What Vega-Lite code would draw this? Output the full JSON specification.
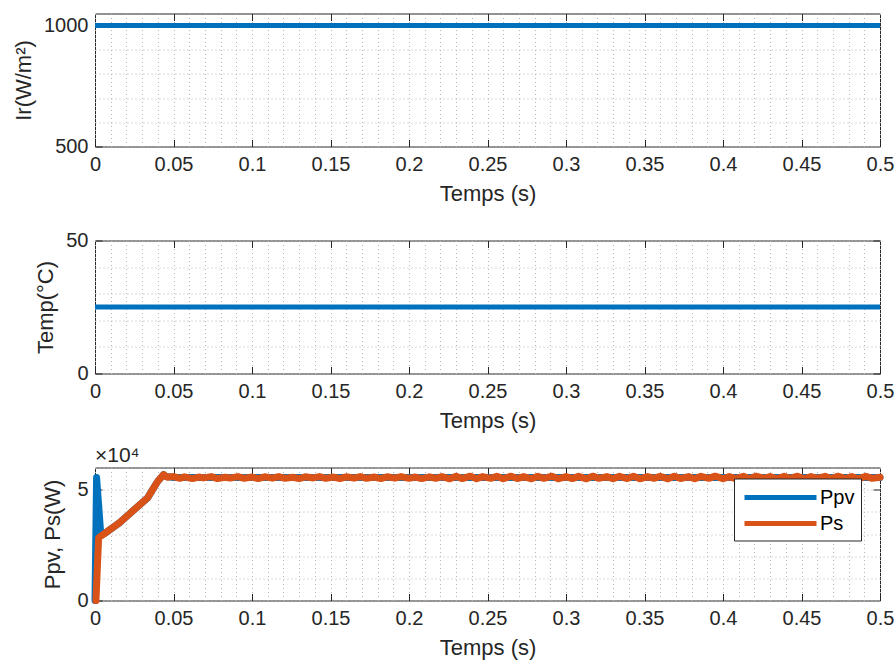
{
  "$schema": "https://vega.github.io/schema/vega-lite/v6.json",
  "autosize": {"type": "pad"},
  "padding": {"left": 12, "top": 12.5, "right": 0, "bottom": 0},
  "background": "white",
  "spacing": 94,
  "bounds": "flush",
  "config": {
    "view": {"stroke": "#262626", "strokeWidth": 1},
    "axis": {
      "labelFont": "Liberation Sans",
      "labelFontSize": 20,
      "labelColor": "#262626",
      "titleFont": "Liberation Sans",
      "titleFontSize": 22,
      "titleFontWeight": "normal",
      "titleColor": "#262626",
      "tickColor": "#262626",
      "tickWidth": 1,
      "tickSize": -7,
      "domain": false,
      "labelOverlap": false,
      "labelFlush": false,
      "gridColor": "#b4b4b4",
      "gridDash": [1, 3],
      "gridWidth": 1
    },
    "legend": {
      "labelFont": "Liberation Sans",
      "labelFontSize": 20,
      "labelColor": "#000000"
    },
    "title": {"font": "Liberation Sans"}
  },
  "vconcat": [
    {
      "width": 785,
      "height": 133,
      "data": {"values": [{"t": 0, "ir": 1000}, {"t": 0.5, "ir": 1000}]},
      "layer": [
        {
          "mark": {"type": "line", "opacity": 0},
          "encoding": {
            "x": {"field": "t", "type": "quantitative", "scale": {"domain": [0, 0.5], "nice": false, "zero": false},
              "axis": {"orient": "top", "values": [0.05, 0.1, 0.15, 0.2, 0.25, 0.3, 0.35, 0.4, 0.45], "labels": false, "grid": false, "title": null}},
            "y": {"field": "ir", "type": "quantitative", "scale": {"domain": [500, 1050], "nice": false, "zero": false},
              "axis": {"orient": "right", "values": [1000], "labels": false, "grid": false, "title": null}}
          }
        },
        {
          "mark": {"type": "line", "color": "#0072BD", "strokeWidth": 5},
          "encoding": {
            "x": {"field": "t", "type": "quantitative", "scale": {"domain": [0, 0.5], "nice": false, "zero": false},
              "axis": {"orient": "bottom", "title": "Temps (s)", "grid": true, "labelPadding": 15, "titlePadding": 9,
                "values": [0,0.01,0.02,0.03,0.04,0.05,0.06,0.07,0.08,0.09,0.1,0.11,0.12,0.13,0.14,0.15,0.16,0.17,0.18,0.19,0.2,0.21,0.22,0.23,0.24,0.25,0.26,0.27,0.28,0.29,0.3,0.31,0.32,0.33,0.34,0.35,0.36,0.37,0.38,0.39,0.4,0.41,0.42,0.43,0.44,0.45,0.46,0.47,0.48,0.49,0.5],
                "labelExpr": "round(datum.value*100)%5==0 ? format(datum.value, '.2~f') : ''",
                "tickOpacity": {"condition": {"test": "round(datum.value*100)%5!=0", "value": 0}, "value": 1}}},
            "y": {"field": "ir", "type": "quantitative", "scale": {"domain": [500, 1050], "nice": false, "zero": false},
              "axis": {"orient": "left", "title": "Ir(W/m²)", "grid": true, "labelPadding": 14, "titlePadding": 8,
                "values": [500, 600, 700, 800, 900, 1000],
                "labelExpr": "datum.value%500==0 ? datum.value : ''",
                "tickOpacity": {"condition": {"test": "datum.value%500!=0", "value": 0}, "value": 1}}}
          }
        }
      ],
      "resolve": {"axis": {"x": "independent", "y": "independent"}}
    },
    {
      "width": 785,
      "height": 133,
      "data": {"values": [{"t": 0, "temp": 25}, {"t": 0.5, "temp": 25}]},
      "layer": [
        {
          "mark": {"type": "line", "opacity": 0},
          "encoding": {
            "x": {"field": "t", "type": "quantitative", "scale": {"domain": [0, 0.5], "nice": false, "zero": false},
              "axis": {"orient": "top", "values": [0.05, 0.1, 0.15, 0.2, 0.25, 0.3, 0.35, 0.4, 0.45], "labels": false, "grid": false, "title": null}},
            "y": {"field": "temp", "type": "quantitative", "scale": {"domain": [0, 50], "nice": false},
              "axis": {"orient": "right", "values": [0, 50], "labels": false, "grid": false, "title": null}}
          }
        },
        {
          "mark": {"type": "line", "color": "#0072BD", "strokeWidth": 5},
          "encoding": {
            "x": {"field": "t", "type": "quantitative", "scale": {"domain": [0, 0.5], "nice": false, "zero": false},
              "axis": {"orient": "bottom", "title": "Temps (s)", "grid": true, "labelPadding": 15, "titlePadding": 9,
                "values": [0,0.01,0.02,0.03,0.04,0.05,0.06,0.07,0.08,0.09,0.1,0.11,0.12,0.13,0.14,0.15,0.16,0.17,0.18,0.19,0.2,0.21,0.22,0.23,0.24,0.25,0.26,0.27,0.28,0.29,0.3,0.31,0.32,0.33,0.34,0.35,0.36,0.37,0.38,0.39,0.4,0.41,0.42,0.43,0.44,0.45,0.46,0.47,0.48,0.49,0.5],
                "labelExpr": "round(datum.value*100)%5==0 ? format(datum.value, '.2~f') : ''",
                "tickOpacity": {"condition": {"test": "round(datum.value*100)%5!=0", "value": 0}, "value": 1}}},
            "y": {"field": "temp", "type": "quantitative", "scale": {"domain": [0, 50], "nice": false},
              "axis": {"orient": "left", "title": "Temp(°C)", "grid": true, "labelPadding": 14, "titlePadding": 8,
                "values": [0, 10, 20, 30, 40, 50],
                "labelExpr": "datum.value%50==0 ? datum.value : ''",
                "tickOpacity": {"condition": {"test": "datum.value%50!=0", "value": 0}, "value": 1}}}
          }
        }
      ],
      "resolve": {"axis": {"x": "independent", "y": "independent"}}
    },
    {
      "width": 785,
      "height": 133,
      "title": {"text": "×10⁴", "anchor": "start", "frame": "group", "fontSize": 21, "fontWeight": "normal", "color": "#262626", "offset": -8, "dx": 0},
      "data": {"values": [
        {"t": 0, "p": 0, "s": "Ppv"},
        {"t": 0.001, "p": 55500, "s": "Ppv"},
        {"t": 0.0037, "p": 29800, "s": "Ppv"},
        {"t": 0.006, "p": 30200, "s": "Ppv"},
        {"t": 0.0155, "p": 35000, "s": "Ppv"},
        {"t": 0.025, "p": 41000, "s": "Ppv"},
        {"t": 0.0335, "p": 46300, "s": "Ppv"},
        {"t": 0.0367, "p": 50000, "s": "Ppv"},
        {"t": 0.04, "p": 53800, "s": "Ppv"},
        {"t": 0.0437, "p": 56800, "s": "Ppv"},
        {"t": 0.045, "p": 56000, "s": "Ppv"},
        {"t": 0.05, "p": 55500, "s": "Ppv"},
        {"t": 0.5, "p": 55500, "s": "Ppv"},
        {"t": 0.0006, "p": 0, "s": "Ps"},
        {"t": 0.0023, "p": 28300, "s": "Ps"},
        {"t": 0.006, "p": 30200, "s": "Ps"},
        {"t": 0.0155, "p": 35000, "s": "Ps"},
        {"t": 0.025, "p": 41000, "s": "Ps"},
        {"t": 0.0335, "p": 46300, "s": "Ps"},
        {"t": 0.0367, "p": 50000, "s": "Ps"},
        {"t": 0.04, "p": 53800, "s": "Ps"},
        {"t": 0.0437, "p": 56800, "s": "Ps"},
        {"t": 0.046, "p": 55600, "s": "Ps"},
        {"t": 0.05, "p": 55900, "s": "Ps"},
        {"t": 0.054, "p": 55100, "s": "Ps"},
        {"t": 0.057, "p": 55800, "s": "Ps"},
        {"t": 0.062, "p": 55000, "s": "Ps"},
        {"t": 0.066, "p": 55700, "s": "Ps"},
        {"t": 0.069, "p": 55300, "s": "Ps"},
        {"t": 0.074, "p": 55900, "s": "Ps"},
        {"t": 0.078, "p": 55000, "s": "Ps"},
        {"t": 0.083, "p": 55600, "s": "Ps"},
        {"t": 0.086, "p": 55200, "s": "Ps"},
        {"t": 0.091, "p": 55900, "s": "Ps"},
        {"t": 0.095, "p": 55100, "s": "Ps"},
        {"t": 0.1, "p": 55700, "s": "Ps"},
        {"t": 0.104, "p": 55000, "s": "Ps"},
        {"t": 0.108, "p": 55800, "s": "Ps"},
        {"t": 0.113, "p": 55200, "s": "Ps"},
        {"t": 0.117, "p": 55900, "s": "Ps"},
        {"t": 0.121, "p": 55100, "s": "Ps"},
        {"t": 0.126, "p": 55600, "s": "Ps"},
        {"t": 0.13, "p": 55000, "s": "Ps"},
        {"t": 0.134, "p": 55800, "s": "Ps"},
        {"t": 0.139, "p": 55300, "s": "Ps"},
        {"t": 0.143, "p": 55900, "s": "Ps"},
        {"t": 0.147, "p": 55100, "s": "Ps"},
        {"t": 0.152, "p": 55700, "s": "Ps"},
        {"t": 0.156, "p": 55000, "s": "Ps"},
        {"t": 0.16, "p": 55800, "s": "Ps"},
        {"t": 0.165, "p": 55200, "s": "Ps"},
        {"t": 0.169, "p": 55900, "s": "Ps"},
        {"t": 0.173, "p": 55100, "s": "Ps"},
        {"t": 0.178, "p": 55700, "s": "Ps"},
        {"t": 0.182, "p": 55000, "s": "Ps"},
        {"t": 0.186, "p": 55800, "s": "Ps"},
        {"t": 0.191, "p": 55200, "s": "Ps"},
        {"t": 0.195, "p": 55900, "s": "Ps"},
        {"t": 0.2, "p": 55100, "s": "Ps"},
        {"t": 0.204, "p": 55700, "s": "Ps"},
        {"t": 0.208, "p": 55000, "s": "Ps"},
        {"t": 0.213, "p": 55800, "s": "Ps"},
        {"t": 0.217, "p": 55100, "s": "Ps"},
        {"t": 0.221, "p": 55900, "s": "Ps"},
        {"t": 0.226, "p": 54900, "s": "Ps"},
        {"t": 0.23, "p": 56000, "s": "Ps"},
        {"t": 0.234, "p": 55000, "s": "Ps"},
        {"t": 0.239, "p": 56100, "s": "Ps"},
        {"t": 0.243, "p": 54900, "s": "Ps"},
        {"t": 0.247, "p": 55900, "s": "Ps"},
        {"t": 0.252, "p": 55100, "s": "Ps"},
        {"t": 0.256, "p": 56000, "s": "Ps"},
        {"t": 0.26, "p": 54900, "s": "Ps"},
        {"t": 0.265, "p": 56100, "s": "Ps"},
        {"t": 0.269, "p": 55000, "s": "Ps"},
        {"t": 0.273, "p": 55900, "s": "Ps"},
        {"t": 0.278, "p": 54900, "s": "Ps"},
        {"t": 0.282, "p": 56000, "s": "Ps"},
        {"t": 0.286, "p": 55100, "s": "Ps"},
        {"t": 0.291, "p": 56100, "s": "Ps"},
        {"t": 0.295, "p": 54900, "s": "Ps"},
        {"t": 0.3, "p": 55900, "s": "Ps"},
        {"t": 0.304, "p": 55000, "s": "Ps"},
        {"t": 0.308, "p": 56000, "s": "Ps"},
        {"t": 0.313, "p": 54900, "s": "Ps"},
        {"t": 0.317, "p": 56100, "s": "Ps"},
        {"t": 0.321, "p": 55100, "s": "Ps"},
        {"t": 0.326, "p": 55900, "s": "Ps"},
        {"t": 0.33, "p": 54900, "s": "Ps"},
        {"t": 0.334, "p": 56000, "s": "Ps"},
        {"t": 0.339, "p": 55000, "s": "Ps"},
        {"t": 0.343, "p": 56100, "s": "Ps"},
        {"t": 0.347, "p": 54900, "s": "Ps"},
        {"t": 0.352, "p": 55900, "s": "Ps"},
        {"t": 0.356, "p": 55100, "s": "Ps"},
        {"t": 0.36, "p": 56000, "s": "Ps"},
        {"t": 0.365, "p": 54900, "s": "Ps"},
        {"t": 0.369, "p": 56100, "s": "Ps"},
        {"t": 0.373, "p": 55000, "s": "Ps"},
        {"t": 0.378, "p": 55900, "s": "Ps"},
        {"t": 0.382, "p": 54900, "s": "Ps"},
        {"t": 0.386, "p": 56000, "s": "Ps"},
        {"t": 0.391, "p": 55100, "s": "Ps"},
        {"t": 0.395, "p": 56100, "s": "Ps"},
        {"t": 0.4, "p": 54900, "s": "Ps"},
        {"t": 0.404, "p": 55900, "s": "Ps"},
        {"t": 0.408, "p": 55000, "s": "Ps"},
        {"t": 0.413, "p": 56000, "s": "Ps"},
        {"t": 0.417, "p": 54900, "s": "Ps"},
        {"t": 0.421, "p": 56100, "s": "Ps"},
        {"t": 0.426, "p": 55100, "s": "Ps"},
        {"t": 0.43, "p": 55900, "s": "Ps"},
        {"t": 0.434, "p": 54900, "s": "Ps"},
        {"t": 0.439, "p": 56000, "s": "Ps"},
        {"t": 0.443, "p": 55000, "s": "Ps"},
        {"t": 0.447, "p": 56100, "s": "Ps"},
        {"t": 0.452, "p": 54900, "s": "Ps"},
        {"t": 0.456, "p": 55900, "s": "Ps"},
        {"t": 0.46, "p": 55100, "s": "Ps"},
        {"t": 0.465, "p": 56000, "s": "Ps"},
        {"t": 0.469, "p": 54900, "s": "Ps"},
        {"t": 0.473, "p": 56100, "s": "Ps"},
        {"t": 0.478, "p": 55000, "s": "Ps"},
        {"t": 0.482, "p": 55900, "s": "Ps"},
        {"t": 0.486, "p": 54900, "s": "Ps"},
        {"t": 0.491, "p": 56000, "s": "Ps"},
        {"t": 0.495, "p": 55100, "s": "Ps"},
        {"t": 0.5, "p": 55600, "s": "Ps"}
      ]},
      "layer": [
        {
          "mark": {"type": "line", "opacity": 0},
          "encoding": {
            "x": {"field": "t", "type": "quantitative", "scale": {"domain": [0, 0.5], "nice": false, "zero": false},
              "axis": {"orient": "top", "values": [0.05, 0.1, 0.15, 0.2, 0.25, 0.3, 0.35, 0.4, 0.45], "labels": false, "grid": false, "title": null}},
            "y": {"field": "p", "type": "quantitative", "scale": {"domain": [0, 60000], "nice": false},
              "axis": {"orient": "right", "values": [50000], "labels": false, "grid": false, "title": null}},
            "detail": {"field": "s"}
          }
        },
        {
          "mark": {"type": "line", "strokeWidth": 7, "strokeJoin": "round", "strokeCap": "round"},
          "encoding": {
            "x": {"field": "t", "type": "quantitative", "scale": {"domain": [0, 0.5], "nice": false, "zero": false},
              "axis": {"orient": "bottom", "title": "Temps (s)", "grid": true, "labelPadding": 15, "titlePadding": 9,
                "values": [0,0.01,0.02,0.03,0.04,0.05,0.06,0.07,0.08,0.09,0.1,0.11,0.12,0.13,0.14,0.15,0.16,0.17,0.18,0.19,0.2,0.21,0.22,0.23,0.24,0.25,0.26,0.27,0.28,0.29,0.3,0.31,0.32,0.33,0.34,0.35,0.36,0.37,0.38,0.39,0.4,0.41,0.42,0.43,0.44,0.45,0.46,0.47,0.48,0.49,0.5],
                "labelExpr": "round(datum.value*100)%5==0 ? format(datum.value, '.2~f') : ''",
                "tickOpacity": {"condition": {"test": "round(datum.value*100)%5!=0", "value": 0}, "value": 1}}},
            "y": {"field": "p", "type": "quantitative", "scale": {"domain": [0, 60000], "nice": false},
              "axis": {"orient": "left", "title": "Ppv, Ps(W)", "grid": true, "labelPadding": 14, "titlePadding": 12,
                "values": [0, 10000, 20000, 30000, 40000, 50000, 60000],
                "labelExpr": "datum.value%50000==0 ? datum.value/10000 : ''",
                "tickOpacity": {"condition": {"test": "datum.value%50000!=0", "value": 0}, "value": 1}}},
            "color": {"field": "s", "type": "nominal", "scale": {"domain": ["Ppv", "Ps"], "range": ["#0072BD", "#D95319"]},
              "legend": {"title": null, "orient": "none", "legendX": 639, "legendY": 465, "fillColor": "white", "strokeColor": "#262626",
                "padding": 6.5, "symbolType": "M-3.6,0H3.6", "symbolSize": 400, "symbolStrokeWidth": 5, "symbolOffset": 27.5, "rowPadding": 3, "labelOffset": 27}}
          }
        }
      ],
      "resolve": {"axis": {"x": "independent", "y": "independent"}}
    }
  ]
}
